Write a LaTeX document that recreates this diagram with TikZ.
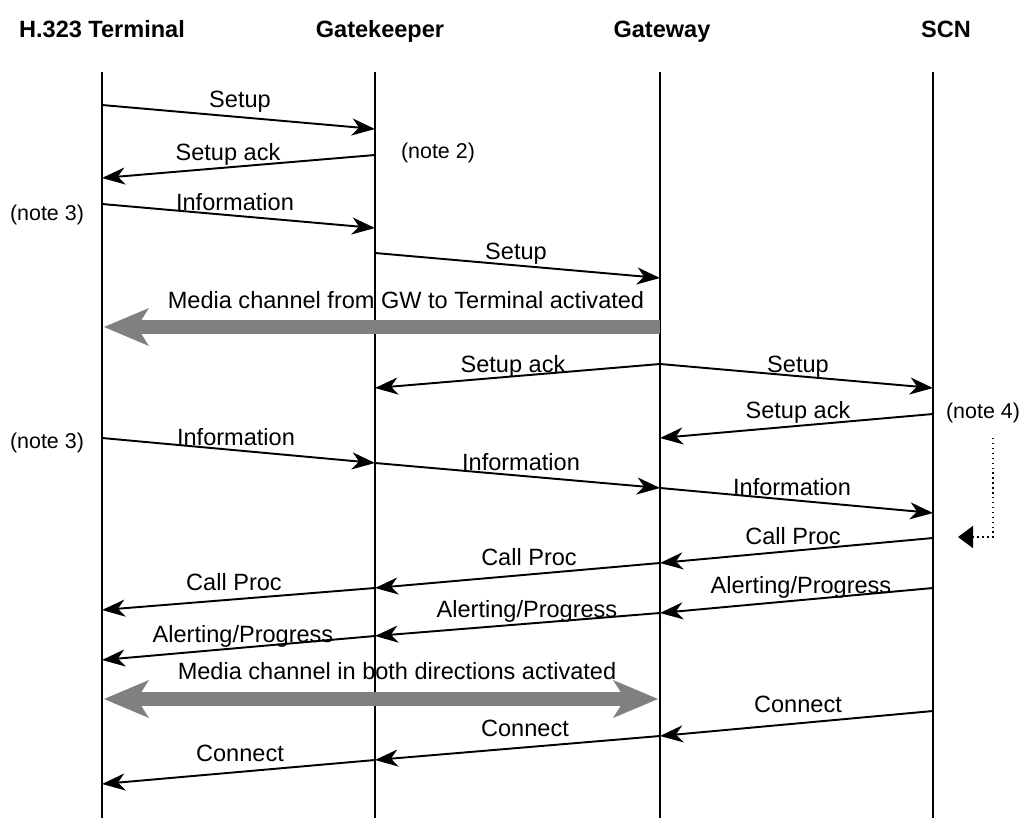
\documentclass[tikz,border=0pt]{standalone}
\usepackage{fontspec}
\setmainfont{Liberation Sans}
\usetikzlibrary{arrows.meta}

\begin{document}
\begin{tikzpicture}[x=0.02cm,y=-0.02cm,
		every node/.style={font=\fontsize{13.4}{16}\selectfont,inner sep=0pt,anchor=base},
		head/.style={font=\fontsize{13.4}{16}\selectfont\bfseries},
		note/.style={font=\fontsize{12.2}{15}\selectfont},
		life/.style={line width=0.8pt},
		msg/.style={line width=1.1pt,-{Stealth[length=0.46cm,width=0.34cm,inset=0.14cm]}},
		gwtip/.tip={Stealth[length=0.9cm,width=0.76cm,inset=0.24cm,line width=0pt]},
		media/.style={line width=0.28cm,gray}]
				  \useasboundingbox (0,0) rectangle (1022,818);
				  %LIFELINES
				  \node[head] (hT) at (102,37) {H.323 Terminal};
				  \node[head] (hK) at (380,37) {Gatekeeper};
				  \node[head] (hW) at (662,37) {Gateway};
				  \node[head] (hS) at (946,37) {SCN};
				  \coordinate (T) at (102,72); \coordinate (T') at (102,818);
				  \coordinate (K) at (375,72); \coordinate (K') at (375,818);
				  \coordinate (W) at (660,72); \coordinate (W') at (660,818);
				  \coordinate (S) at (933,72); \coordinate (S') at (933,818);
				  \draw[life] (T) -- (T') (K) -- (K') (W) -- (W') (S) -- (S');
				  %POINTS ON THE LIFELINES
				  \coordinate (T1) at (102,105); \coordinate (T2) at (102,178);
				  \coordinate (T3) at (102,204); \coordinate (T4) at (102,438);
				  \coordinate (T5) at (102,610); \coordinate (T6) at (102,660);
				  \coordinate (T7) at (102,784);
				  \coordinate (K1) at (375,129); \coordinate (K2) at (375,155);
				  \coordinate (K3) at (375,228); \coordinate (K4) at (375,253);
				  \coordinate (K5) at (375,388); \coordinate (K6) at (375,463);
				  \coordinate (K7) at (375,588); \coordinate (K8) at (375,636);
				  \coordinate (K9) at (375,760);
				  \coordinate (W1) at (660,278); \coordinate (W2) at (660,364);
				  \coordinate (W3) at (660,438); \coordinate (W4) at (660,488);
				  \coordinate (W5) at (660,563); \coordinate (W6) at (660,613);
				  \coordinate (W7) at (660,736);
				  \coordinate (S1) at (933,388); \coordinate (S2) at (933,414);
				  \coordinate (S3) at (933,513); \coordinate (S4) at (933,538);
				  \coordinate (S5) at (933,588); \coordinate (S6) at (933,711);
				  %MESSAGES
				  \draw[msg] (T1) -- (K1); \node (l1) at (240,107) {Setup};
				  \draw[msg] (K2) -- (T2); \node (l2) at (228,160) {Setup ack};
				  \draw[msg] (T3) -- (K3); \node (l3) at (235,210) {Information};
				  \draw[msg] (K4) -- (W1); \node (l4) at (516,259) {Setup};
				  \draw[msg] (W2) -- (K5); \node (l5) at (513,372) {Setup ack};
				  \draw[msg] (W2) -- (S1); \node (l6) at (798,372) {Setup};
				  \draw[msg] (S2) -- (W3); \node (l7) at (798,418) {Setup ack};
				  \draw[msg] (T4) -- (K6); \node (l8) at (236,445) {Information};
				  \draw[msg] (K6) -- (W4); \node (l9) at (521,470) {Information};
				  \draw[msg] (W4) -- (S3); \node (l10) at (792,495) {Information};
				  \draw[msg] (S4) -- (W5); \node (l11) at (793,544) {Call Proc};
				  \draw[msg] (W5) -- (K7); \node (l12) at (529,565) {Call Proc};
				  \draw[msg] (K7) -- (T5); \node (l13) at (234,590) {Call Proc};
				  \draw[msg] (S5) -- (W6); \node (l14) at (801,593) {Alerting/Progress};
				  \draw[msg] (W6) -- (K8); \node (l15) at (527,617) {Alerting/Progress};
				  \draw[msg] (K8) -- (T6); \node (l16) at (243,642) {Alerting/Progress};
				  \draw[msg] (S6) -- (W7); \node (l17) at (798,712) {Connect};
				  \draw[msg] (W7) -- (K9); \node (l18) at (525,736) {Connect};
				  \draw[msg] (K9) -- (T7); \node (l19) at (240,761) {Connect};
				  %MEDIA CHANNELS
				  \coordinate (G1) at (660,327); \coordinate (G1') at (104,327);
				  \coordinate (G2) at (104,699); \coordinate (G2') at (658,699);
				  \draw[media,-gwtip] (G1) -- (G1');
				  \node (m1) at (406,308) {Media channel from GW to Terminal activated};
				  \draw[media,gwtip-gwtip] (G2) -- (G2');
				  \node (m2) at (397,679) {Media channel in both directions activated};
				  %NOTES
				  \node[note] (n2) at (438,158) {(note 2)};
				  \node[note] (n3) at (47,220) {(note 3)};
				  \node[note] (n3') at (47,448) {(note 3)};
				  \node[note] (n4) at (983,418) {(note 4)};
				  \coordinate (N4) at (993,438); \coordinate (N4') at (958,537);
				  \draw[dotted,line width=0.8pt,-{Triangle[length=0.3cm,width=0.44cm]}] (N4) |- (N4');
				  \end{tikzpicture}
\end{document}
